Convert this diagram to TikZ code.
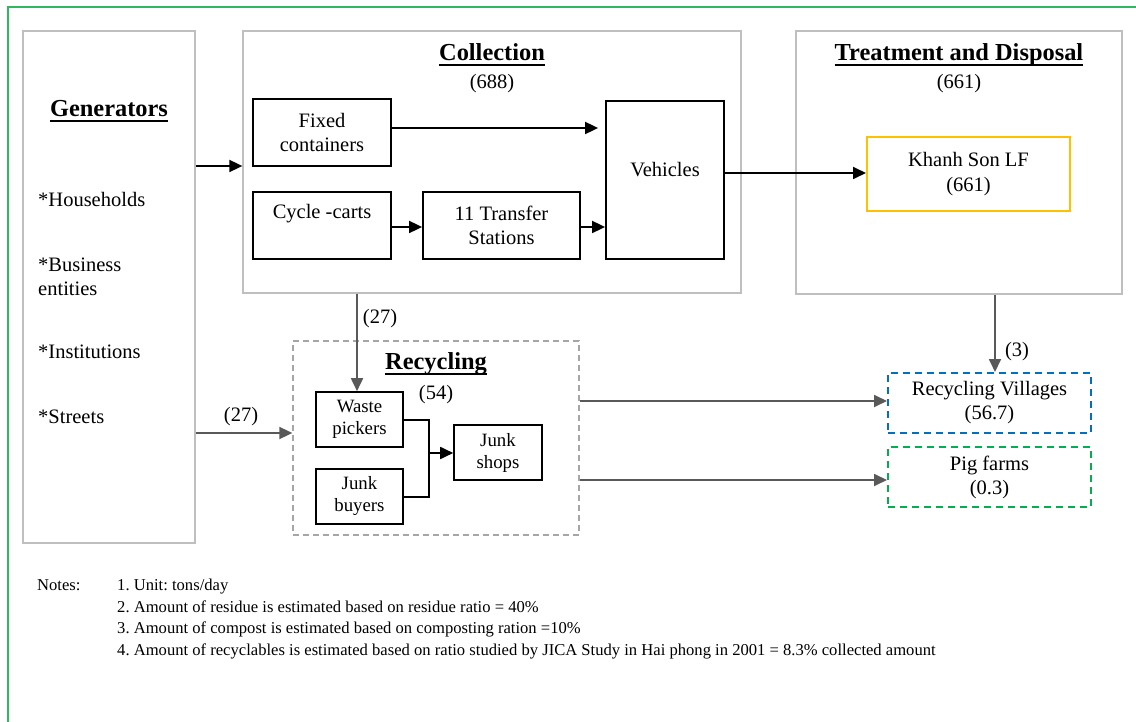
\documentclass[tikz,border=0pt]{standalone}
\usepackage{fontspec}
\setmainfont{Liberation Serif}
\usetikzlibrary{arrows.meta}
\frenchspacing
\definecolor{frameG}{RGB}{46,184,96}
\definecolor{boxgray}{RGB}{191,191,191}
\definecolor{dashgray}{RGB}{166,166,166}
\definecolor{arrgray}{RGB}{89,89,89}
\definecolor{rvblue}{RGB}{0,112,192}
\definecolor{piggreen}{RGB}{0,176,80}
\definecolor{lfgold}{RGB}{255,192,0}
\newcommand\fbody{\fontsize{20.5}{24}\selectfont}
\newcommand\fsmall{\fontsize{18.8}{22}\selectfont}
\newcommand\ftitle{\fontsize{24.4}{28}\selectfont\bfseries}
\newcommand\fnote{\fontsize{16.6}{20}\selectfont}
\tikzset{
  graybox/.style={draw=boxgray, line width=1.3pt, inner sep=0pt},
  blkbox/.style={draw=black, line width=1.8pt, inner sep=0pt, align=center, font=\fbody},
  smallbox/.style={draw=black, line width=1.6pt, inner sep=0pt, align=center, font=\fsmall},
  txt/.style={inner sep=0pt, align=center, font=\fbody},
  ttl/.style={inner sep=0pt, font=\ftitle},
  uline/.style={line width=2.4pt},
  barrow/.style={draw=black, line width=1.8pt, -{Triangle[length=13pt,width=12pt]}},
  garrow/.style={draw=arrgray, line width=1.8pt, -{Triangle[length=13pt,width=12pt]}},
  bline/.style={draw=black, line width=1.8pt},
  notetxt/.style={inner sep=0pt, font=\fnote, anchor=base west}
}
\begin{document}
\begin{tikzpicture}[x=1pt,y=-1pt]
\useasboundingbox (0,0) rectangle (1136,722);
% outer frame
\draw[frameG, line width=1.5pt] (8,730) -- (8,7) -- (1145,7);

% helper coordinates
\coordinate (r128) at (0,128);
\coordinate (r166) at (0,166);
\coordinate (r173) at (0,173);
\coordinate (r227) at (0,227);
\coordinate (r401) at (0,401);
\coordinate (r420) at (0,420);
\coordinate (r433) at (0,433);
\coordinate (r453) at (0,453);
\coordinate (r480) at (0,480);
\coordinate (r497) at (0,497);
\coordinate (c357) at (357,0);
\coordinate (c429) at (429,0);
\coordinate (c995) at (995,0);

% big containers
\node[graybox, minimum width=172pt, minimum height=512pt] (gen) at (109,287) {};
\node[graybox, minimum width=498pt, minimum height=262pt] (coll) at (492,162) {};
\node[graybox, minimum width=326pt, minimum height=263pt] (treat) at (959,162.5) {};
\node[draw=dashgray, line width=1.3pt, dash pattern=on 6pt off 4pt, minimum width=286pt, minimum height=194pt] (rec) at (436,438) {};

% titles
\node[ttl, anchor=base] (gent) at (109,117) {Generators};
\draw[uline] ([yshift=-4pt]gent.base west) -- ([yshift=-4pt]gent.base east);
\node[ttl, anchor=base] (collt) at (492,61) {Collection};
\draw[uline] ([yshift=-4pt]collt.base west) -- ([yshift=-4pt]collt.base east);
\node[txt, anchor=base] (colln) at (492,89) {(688)};
\node[ttl, anchor=base] (treatt) at (959,61) {Treatment and Disposal};
\draw[uline] ([yshift=-4pt]treatt.base west) -- ([yshift=-4pt]treatt.base east);
\node[txt, anchor=base] (treatn) at (959,89) {(661)};
\node[ttl, anchor=base] (rect) at (436,370) {Recycling};
\draw[uline] ([yshift=-4pt]rect.base west) -- ([yshift=-4pt]rect.base east);
\node[txt, anchor=base] (recn) at (436,399) {(54)};

% generators list
\node[txt, anchor=west] (hh) at (38,199) {*Households};
\node[txt, anchor=west, align=left] (be) at (38,276.5) {*Business\\entities};
\node[txt, anchor=west] (inst) at (38,352) {*Institutions};
\node[txt, anchor=west] (str) at (38,417) {*Streets};

% collection boxes
\node[blkbox, minimum width=138pt, minimum height=67pt] (fixed) at (322,132.5) {Fixed\\containers};
\node[blkbox, minimum width=138pt, minimum height=67pt] (cyc) at (322,225.5) {};
\node[txt] (cyct) at (322,214) {Cycle -carts};
\node[blkbox, minimum width=157pt, minimum height=67pt] (tra) at (501.5,225.5) {11 Transfer\\Stations};
\node[blkbox, minimum width=118pt, minimum height=158pt] (veh) at (665,180) {};
\node[txt] (veht) at (665,170) {Vehicles};

% treatment box
\node[draw=lfgold, line width=2pt, inner sep=0pt, align=center, font=\fbody, minimum width=203pt, minimum height=74pt] (khanh) at (968.5,174) {Khanh Son LF\\[1pt](661)};

% recycling boxes
\node[smallbox, minimum width=87pt, minimum height=55pt] (waste) at (359.5,419.5) {Waste\\pickers};
\node[smallbox, minimum width=87pt, minimum height=55pt] (buy) at (359.5,496.5) {Junk\\buyers};
\node[smallbox, minimum width=88pt, minimum height=55pt] (shops) at (498,452.5) {Junk\\shops};

% destinations
\node[draw=rvblue, line width=2pt, dash pattern=on 7pt off 5pt, inner sep=0pt, align=center, font=\fbody, minimum width=203pt, minimum height=60pt] (rv) at (989.5,403) {Recycling Villages\\(56.7)};
\node[draw=piggreen, line width=2pt, dash pattern=on 7pt off 5pt, inner sep=0pt, align=center, font=\fbody, minimum width=203pt, minimum height=60pt] (pig) at (989.5,477) {Pig farms\\(0.3)};

% black connectors
\draw[barrow] (gen.east |- r166) -- (coll.west |- r166);
\draw[barrow, shorten >=7pt] (fixed.east |- r128) -- (veh.west |- r128);
\draw[barrow] (cyc.east |- r227) -- (tra.west |- r227);
\draw[barrow] (tra.east |- r227) -- (veh.west |- r227);
\draw[barrow] (veh.east |- r173) -- (khanh.west |- r173);
\draw[bline] (waste.east |- r420) -- (c429 |- r420) -- (c429 |- r497) -- (buy.east |- r497);
\draw[barrow] (c429 |- r453) -- (shops.west |- r453);

% gray connectors
\draw[garrow] (coll.south -| c357) -- (waste.north -| c357);
\node[txt] (l27a) at (380,319) {(27)};
\draw[garrow] (gen.east |- r433) -- (rec.west |- r433);
\node[txt] (l27b) at (241,417) {(27)};
\draw[garrow] (rec.east |- r401) -- (rv.west |- r401);
\draw[garrow] (rec.east |- r480) -- (pig.west |- r480);
\draw[garrow] (treat.south -| c995) -- (rv.north -| c995);
\node[txt] (l3) at (1017,352) {(3)};

% notes
\node[notetxt] (notes) at (37,590) {Notes:};
\node[notetxt] (n1) at (117,590) {1. Unit: tons/day};
\node[notetxt] (n2) at (117,612) {2. Amount of residue is estimated based on residue ratio = 40\%};
\node[notetxt] (n3) at (117,633) {3. Amount of compost is estimated based on composting ration =10\%};
\node[notetxt] (n4) at (117,655) {4. Amount of recyclables is estimated based on ratio studied by JICA Study in Hai phong in 2001 = 8.3\% collected amount};
\end{tikzpicture}
\end{document}
